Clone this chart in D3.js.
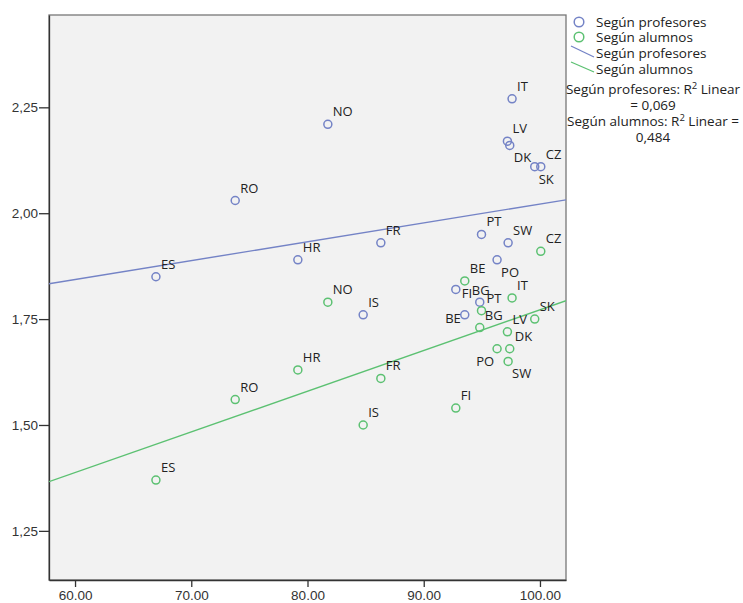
<!DOCTYPE html>
<html>
<head>
<meta charset="utf-8">
<script src="https://cdn.jsdelivr.net/npm/d3@7"></script>
<style>
  body { margin: 0; background: #fff; }
  svg { font-family: "Open Sans", sans-serif; }
  .axis text { font-size: 13.5px; fill: #333; }
  .axis path, .axis line { stroke: #333; stroke-width: 1.3; }
  .pt-label { font-size: 13px; fill: #222; }
  .legend text { font-size: 13.5px; fill: #222; }
</style>
</head>
<body>
<svg id="chart"></svg>
<script>
// country codes, shared x value per country
const countries = ['ES', 'RO', 'HR', 'NO', 'IS', 'FR', 'FI', 'BE', 'BG', 'PT', 'PO', 'LV', 'SW', 'DK', 'IT', 'SK', 'CZ'];
const xValues   = [66.96, 73.78, 79.17, 81.75, 84.79, 86.31, 92.76, 93.53, 94.82, 94.97, 96.31, 97.20, 97.26, 97.40, 97.60, 99.55, 100.07];
const profesores = [1.85, 2.03, 1.89, 2.21, 1.76, 1.93, 1.82, 1.76, 1.79, 1.95, 1.89, 2.17, 1.93, 2.16, 2.27, 2.11, 2.11];
const alumnos    = [1.37, 1.56, 1.63, 1.79, 1.50, 1.61, 1.54, 1.84, 1.73, 1.77, 1.68, 1.72, 1.65, 1.68, 1.80, 1.75, 1.91];

const xTicks = [60, 70, 80, 90, 100];
const yTicks = [1.25, 1.50, 1.75, 2.00, 2.25];
const xDomain = [57.76, 102.24];
const yDomain = [1.134, 2.468];

const seriesNames = ['Según profesores', 'Según alumnos'];
const r2Text = [['Según profesores: R', ' Linear', '= 0,069'], ['Según alumnos: R', ' Linear =', '0,484']];

// label placement exceptions (default: upper right of the point)
const labelPlace = {
  'p-DK': 'below', 'p-SK': 'below', 'p-PO': 'below', 'p-FI': 'right',
  'p-BG': 'upleft', 'p-BE': 'left',
  'a-PO': 'belowleft', 'a-SW': 'below'
};

const config = {
  width: 743, height: 603,
  margin: {top: 15, right: 177, bottom: 23, left: 49},
  colors: ['#7483c6', '#5cc172']
};

const width = config.width - config.margin.left - config.margin.right;
const height = config.height - config.margin.top - config.margin.bottom;

const svg = d3.select('#chart')
    .attr('width', config.width)
    .attr('height', config.height);

const chart = svg.append('g')
    .attr('transform', `translate(${config.margin.left},${config.margin.top})`);

const xScale = d3.scaleLinear().domain(xDomain).range([0, width]);
const yScale = d3.scaleLinear().domain(yDomain).range([height, 0]);

// plot background + frame
chart.append('rect')
    .attr('width', width)
    .attr('height', height)
    .attr('fill', '#f2f2f2')
    .attr('stroke', '#777')
    .attr('stroke-width', 1.3);

chart.append('defs').append('clipPath').attr('id', 'clip')
  .append('rect').attr('width', width).attr('height', height);

// axes
const xAxis = d3.axisBottom(xScale)
    .tickValues(xTicks)
    .tickSize(7)
    .tickSizeOuter(0)
    .tickPadding(3)
    .tickFormat(d3.format('.2f'));

const yAxis = d3.axisLeft(yScale)
    .tickValues(yTicks)
    .tickSize(10)
    .tickSizeOuter(0)
    .tickPadding(1)
    .tickFormat(d => d3.format('.2f')(d).replace('.', ','));

chart.append('g')
    .attr('class', 'axis x-axis')
    .attr('transform', `translate(0,${height})`)
    .call(xAxis);

chart.append('g')
    .attr('class', 'axis y-axis')
    .call(yAxis);

// linear fit per series
function linearFit(xs, ys) {
  const mx = d3.mean(xs), my = d3.mean(ys);
  const sxy = d3.sum(xs, (x, i) => (x - mx) * (ys[i] - my));
  const sxx = d3.sum(xs, x => (x - mx) * (x - mx));
  const b = sxy / sxx;
  return x => my + b * (x - mx);
}

const series = [
  {key: 'p', name: seriesNames[0], values: profesores, color: config.colors[0]},
  {key: 'a', name: seriesNames[1], values: alumnos, color: config.colors[1]}
];

const fitG = chart.append('g').attr('clip-path', 'url(#clip)');
series.forEach(s => {
  const f = linearFit(xValues, s.values);
  fitG.append('line')
      .attr('x1', xScale(xDomain[0]))
      .attr('y1', yScale(f(xDomain[0])))
      .attr('x2', xScale(xDomain[1]))
      .attr('y2', yScale(f(xDomain[1])))
      .attr('stroke', s.color)
      .attr('stroke-width', 1.4);
});

// points + labels
series.forEach(s => {
  const data = countries.map((c, i) => ({c, x: xValues[i], y: s.values[i]}));
  const g = chart.append('g');
  g.selectAll('circle')
      .data(data)
    .join('circle')
      .attr('cx', d => xScale(d.x))
      .attr('cy', d => yScale(d.y))
      .attr('r', 4)
      .attr('fill', 'none')
      .attr('stroke', s.color)
      .attr('stroke-width', 1.5);

  g.selectAll('text')
      .data(data)
    .join('text')
      .attr('class', 'pt-label')
      .each(function(d) {
        const place = labelPlace[`${s.key}-${d.c}`] || 'upright';
        let dx = 5, dy = -8, anchor = 'start';
        if (place === 'below') { dx = 4; dy = 17; }
        if (place === 'right') { dx = 6; dy = 9; }
        if (place === 'upleft') { dx = -8; dy = -7; }
        if (place === 'left') { dx = -4; dy = 8; anchor = 'end'; }
        if (place === 'belowleft') { dx = -3; dy = 17; anchor = 'end'; }
        d3.select(this)
            .attr('x', xScale(d.x) + dx)
            .attr('y', yScale(d.y) + dy)
            .attr('text-anchor', anchor)
            .text(d.c);
      });
});

// legend
const legend = svg.append('g').attr('class', 'legend');
series.forEach((s, i) => {
  legend.append('circle')
      .attr('cx', 579).attr('cy', 22 + i * 15)
      .attr('r', 4.8)
      .attr('fill', 'none')
      .attr('stroke', s.color)
      .attr('stroke-width', 1.5);
  legend.append('text')
      .attr('x', 596).attr('y', 27 + i * 15)
      .text(s.name);
  legend.append('line')
      .attr('x1', 571).attr('y1', 46 + i * 16)
      .attr('x2', 594).attr('y2', 57 + i * 15)
      .attr('stroke', s.color)
      .attr('stroke-width', 1.3);
  legend.append('text')
      .attr('x', 596).attr('y', 58 + i * 16)
      .text(s.name);
});

r2Text.forEach((t, i) => {
  const line1 = legend.append('text')
      .attr('x', 653).attr('y', 94 + i * 32)
      .attr('text-anchor', 'middle');
  line1.append('tspan').text(t[0]);
  line1.append('tspan').attr('dy', -5).attr('font-size', '9.5px').text('2');
  line1.append('tspan').attr('dy', 5).text(t[1]);
  legend.append('text')
      .attr('x', 653).attr('y', 110 + i * 32)
      .attr('text-anchor', 'middle')
      .text(t[2]);
});
</script>
</body>
</html>
